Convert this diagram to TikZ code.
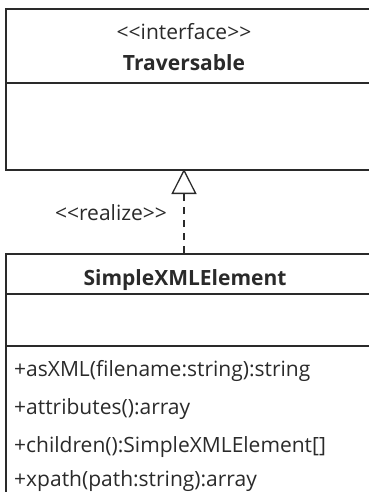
\documentclass[tikz,border=0pt]{standalone}
\usepackage{fontspec}
\setmainfont{Open Sans}[Ligatures=TeXOff]
\usetikzlibrary{arrows.meta}
\definecolor{ink}{HTML}{2A2A2A}
\tikzset{
  umlbox/.style={draw=ink, line width=1.6pt, rectangle, anchor=north west, inner sep=0pt},
  divider/.style={draw=ink, line width=1.6pt},
  txt/.style={text=ink, font=\fontsize{21}{24}\selectfont, inner sep=0pt},
  btxt/.style={text=ink, font=\fontsize{21}{24}\selectfont\bfseries, inner sep=0pt},
  realizes/.style={draw=ink, line width=1.3pt, dash pattern=on 7pt off 6pt,
    -{Triangle[open, width=25pt, length=25pt, line width=1.3pt]}}
}
\begin{document}
\begin{tikzpicture}[x=1pt, y=-1pt]
\clip (0,0) rectangle (369,492);
% interface box
\node[umlbox, minimum width=400pt, minimum height=161pt] (trav) at (5,8) {};
\draw[divider] (5,83) -- (405,83);
\node[txt, anchor=base] (stereo) at (184,40) {<<interface>>};
\node[btxt, anchor=base] (travname) at (184,71) {Traversable};
% class box
\node[umlbox, minimum width=400pt, minimum height=300pt] (sxe) at (5,253) {};
\draw[divider] (5,294) -- (405,294);
\draw[divider] (5,346) -- (405,346);
\node[btxt, anchor=base] (sxename) at (185,285) {SimpleXMLElement};
\node[txt, anchor=base west] (m1) at (14,376) {+asXML(filename:string):string};
\node[txt, anchor=base west] (m2) at (14,414) {+attributes():array};
\node[txt, anchor=base west] (m3) at (14,452) {+children():SimpleXMLElement[]};
\node[txt, anchor=base west] (m4) at (14,486) {+xpath(path:string):array};
% realization
\coordinate (src) at (184,253);
\coordinate (dst) at (184,169);
\draw[realizes] (src) -- (dst);
\node[txt, anchor=base] (lbl) at (111,220) {<<realize>>};
\end{tikzpicture}
\end{document}
